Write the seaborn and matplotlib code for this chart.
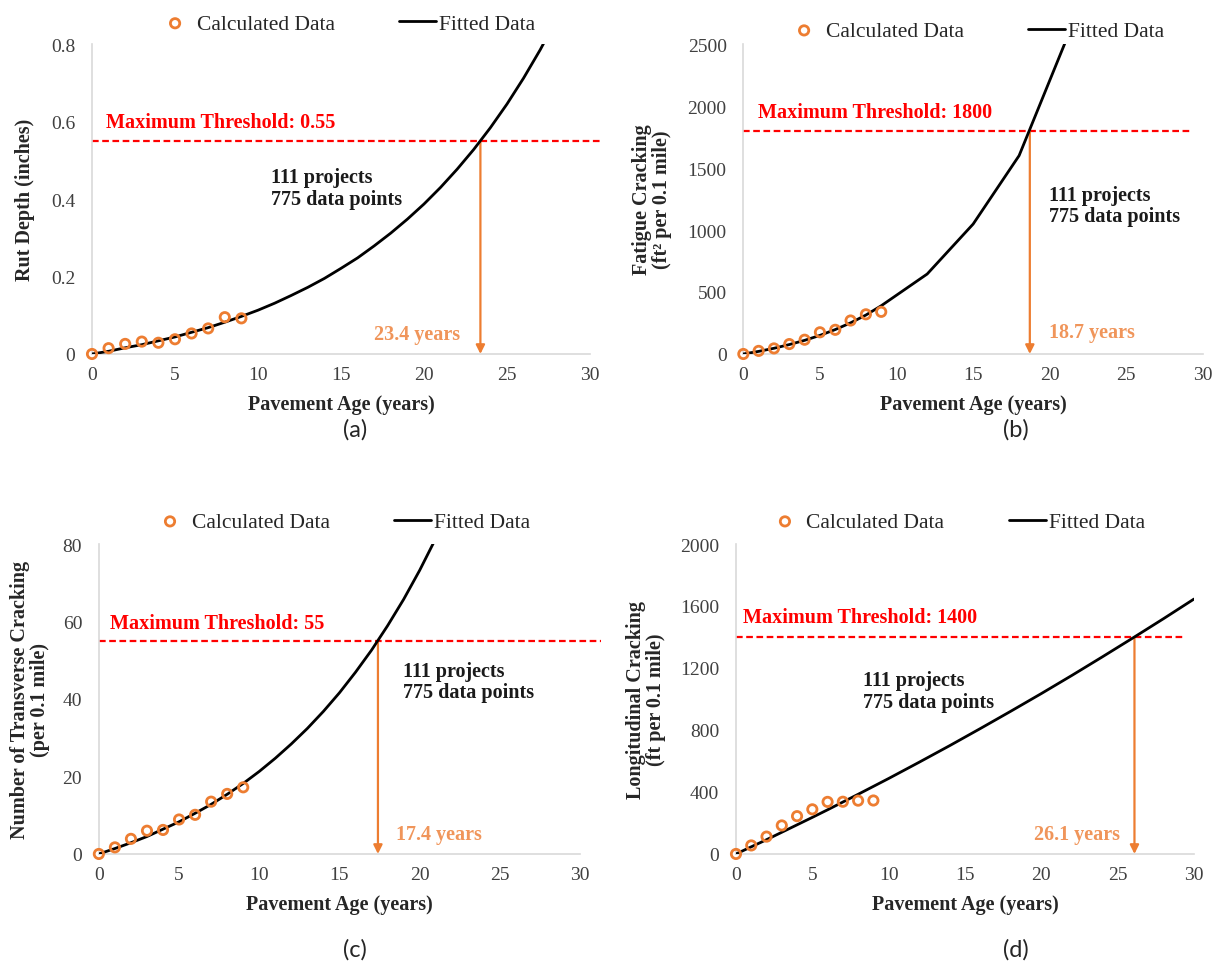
import matplotlib
matplotlib.use("Agg")
import matplotlib.pyplot as plt
import seaborn as sns

# calculated data (years 0-9)
calc_years = [0, 1, 2, 3, 4, 5, 6, 7, 8, 9]
rut_calc = [0, 0.015, 0.026, 0.032, 0.029, 0.038, 0.053, 0.066, 0.095, 0.092]
fatigue_calc = [0, 25, 45, 80, 115, 175, 195, 270, 320, 340]
transverse_calc = [0, 1.7, 3.9, 6.0, 6.2, 8.9, 10.1, 13.5, 15.5, 17.2]
longitudinal_calc = [0, 55, 112, 184, 244, 288, 336, 337, 344, 345]

# fitted curves
rut_fit_years = list(range(0, 29))
rut_fit = [0, 0.007, 0.016, 0.024, 0.034, 0.044, 0.056, 0.068, 0.082, 0.097,
           0.113, 0.131, 0.151, 0.172, 0.195, 0.221, 0.248, 0.279, 0.312, 0.348,
           0.387, 0.430, 0.477, 0.528, 0.584, 0.645, 0.712, 0.785, 0.865]
fatigue_fit_years = [0, 1, 2, 3, 4, 5, 6, 7, 8, 9, 12, 15, 18, 21]
fatigue_fit = [0, 21, 46, 76, 110, 150, 197, 251, 314, 389, 645, 1048, 1600, 2510]
transverse_fit_years = list(range(0, 22))
transverse_fit = [0, 1.4, 2.9, 4.5, 6.4, 8.3, 10.5, 12.8, 15.4, 18.2, 21.3,
                  24.7, 28.4, 32.4, 36.8, 41.6, 46.9, 52.6, 58.9, 65.7, 73.2, 81.4]
longitudinal_fit_years = [0, 1, 2, 3, 4, 5, 6, 7, 8, 9, 10, 12, 14, 16, 18, 20, 22, 24, 26, 28, 30]
longitudinal_fit = [0, 46, 92, 140, 188, 236, 285, 335, 385, 436, 487, 592, 699,
                    809, 921, 1035, 1152, 1272, 1394, 1518, 1645]

# thresholds and crossing ages
thresholds = [0.55, 1800, 55, 1400]
threshold_labels = ["Maximum Threshold: 0.55", "Maximum Threshold: 1800",
                    "Maximum Threshold: 55", "Maximum Threshold: 1400"]
cross_years = [23.4, 18.7, 17.4, 26.1]

ylabels = ["Rut Depth (inches)", "Fatigue Cracking\n(ft² per 0.1 mile)",
           "Number of Transverse Cracking\n(per 0.1 mile)", "Longitudinal Cracking\n(ft per 0.1 mile)"]
yticks = [[0, 0.2, 0.4, 0.6, 0.8], [0, 500, 1000, 1500, 2000, 2500],
          [0, 20, 40, 60, 80], [0, 400, 800, 1200, 1600, 2000]]
ytick_labels = [["0", "0.2", "0.4", "0.6", "0.8"], ["0", "500", "1000", "1500", "2000", "2500"],
                ["0", "20", "40", "60", "80"], ["0", "400", "800", "1200", "1600", "2000"]]
panel_names = ["(a)", "(b)", "(c)", "(d)"]

sns.set_style("white")
plt.rcParams['font.family'] = ['Liberation Serif', 'DejaVu Serif']

ORANGE = '#ED7D31'
ORANGE_TXT = '#F0955A'
RED = '#FF0000'
GREY = '#D9D9D9'

fig = plt.figure(figsize=(12.25, 9.79), dpi=100)

rects = [[0.0751, 0.6374, 0.4065, 0.3166],
         [0.6068, 0.6374, 0.3752, 0.3166],
         [0.0807, 0.1267, 0.3928, 0.3166],
         [0.6008, 0.1267, 0.3739, 0.3166]]

calcs = [rut_calc, fatigue_calc, transverse_calc, longitudinal_calc]
fits = [(rut_fit_years, rut_fit), (fatigue_fit_years, fatigue_fit),
        (transverse_fit_years, transverse_fit), (longitudinal_fit_years, longitudinal_fit)]

# per-panel text placement (data coords)
dash_end = [30.7, 29.2, 31.3, 29.4]
thr_text_pos = [(0.84, 0.60), (0.96, 1948), (0.7, 59.6), (0.43, 1527)]
proj_pos = [(10.8, 0.428), (19.95, 1196), (18.98, 44.5), (8.3, 1053)]
years_pos = [(22.2, 0.052, 'right'), (19.95, 175, 'left'), (18.5, 5.2, 'left'), (25.15, 129, 'right')]
legend_pos = [(0.51, 1.065), (0.504, 1.042), (0.503, 1.071), (0.48, 1.071)]
ylabel_x = [-0.115, -0.155, -0.101, -0.153]
label_xy = [(0.29, 0.561), (0.829, 0.561), (0.29, 0.030), (0.829, 0.030)]

for i in range(4):
    ax = fig.add_axes(rects[i])
    fx, fy = fits[i]
    sns.scatterplot(x=calc_years, y=calcs[i], ax=ax, marker='o', s=45,
                    facecolors='none', edgecolor=ORANGE, linewidth=2,
                    label='Calculated Data', clip_on=False, zorder=4)
    sns.lineplot(x=fx, y=fy, ax=ax, color='black', linewidth=2, estimator=None,
                 label='Fitted Data', zorder=3)

    top = yticks[i][-1]
    ax.set_xlim(0, 30)
    ax.set_ylim(0, top)
    ax.set_xticks([0, 5, 10, 15, 20, 25, 30])
    ax.set_yticks(yticks[i])
    ax.set_yticklabels(ytick_labels[i])
    ax.tick_params(axis='both', length=0, labelsize=14, labelcolor='#404040')
    ax.tick_params(axis='x', pad=9)
    ax.tick_params(axis='y', pad=12)

    for s in ['top', 'right']:
        ax.spines[s].set_visible(False)
    for s in ['left', 'bottom']:
        ax.spines[s].set_color(GREY)
        ax.spines[s].set_linewidth(1.2)

    # threshold line + label
    thr = thresholds[i]
    ax.plot([0, dash_end[i]], [thr, thr], color=RED, linewidth=1.6,
            linestyle=(0, (3, 1.6)), clip_on=False, zorder=2)
    ax.text(thr_text_pos[i][0], thr_text_pos[i][1], threshold_labels[i], color=RED,
            fontsize=14.5, fontweight='bold', ha='left', va='center')

    # arrow from crossing point down to the x-axis
    ax.annotate('', xy=(cross_years[i], 0), xytext=(cross_years[i], thr),
                arrowprops=dict(arrowstyle='-|>', color=ORANGE, lw=1.6,
                                mutation_scale=13, shrinkA=0, shrinkB=0), zorder=2)
    yx, yy, yha = years_pos[i]
    ax.text(yx, yy, f"{cross_years[i]} years", color=ORANGE_TXT, fontsize=14.5,
            fontweight='bold', ha=yha, va='center')

    ax.text(proj_pos[i][0], proj_pos[i][1], "111 projects\n775 data points",
            color='#1a1a1a', fontsize=14.5, fontweight='bold', ha='left', va='center',
            linespacing=1.1)

    ax.set_xlabel("Pavement Age (years)", fontsize=14.5, fontweight='bold')
    ax.set_ylabel(ylabels[i], fontsize=14.5, fontweight='bold', linespacing=1.0)
    ax.xaxis.set_label_coords(0.5, -0.13)
    ax.yaxis.set_label_coords(ylabel_x[i], 0.5)

    ax.legend(loc='center', bbox_to_anchor=legend_pos[i], ncol=2, frameon=False,
              fontsize=15.5, handlelength=1.7, handletextpad=0.15, columnspacing=3.0,
              borderaxespad=0)

    fig.text(label_xy[i][0], label_xy[i][1], panel_names[i], fontsize=17,
             family=['Lato', 'DejaVu Sans'], ha='center', va='center')

fig.savefig("out.png", dpi=100, facecolor='white')
